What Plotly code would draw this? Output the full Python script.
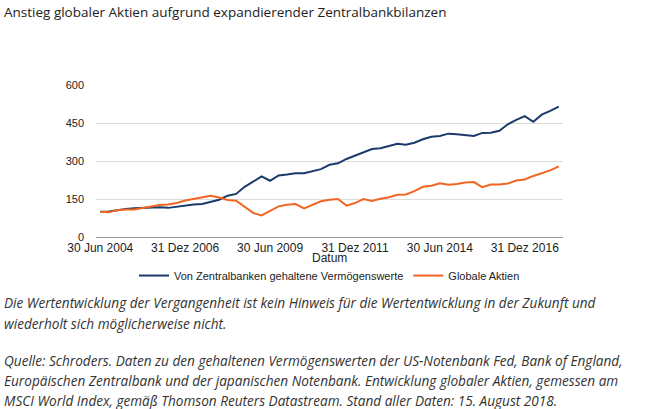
import plotly.graph_objects as go

# Quarter-end category labels (30 Jun 2004 ... 31 Dez 2017)
quarter_days = ["31 Mär", "30 Jun", "30 Sep", "31 Dez"]
dates = []
for year in range(2004, 2018):
    for q, d in enumerate(quarter_days):
        if year == 2004 and q < 1:
            continue
        dates.append(f"{d} {year}")

zentralbanken = [100, 101, 106, 111, 113, 115, 117, 117, 115, 120,
                 124, 128, 130, 137, 147, 163, 170, 198, 218, 239,
                 222, 243, 247, 252, 252, 260, 268, 285, 291, 308,
                 320, 334, 347, 350, 360, 368, 364, 372, 386, 396,
                 399, 408, 406, 403, 399, 411, 412, 419, 445, 462,
                 477, 455, 483, 498, 515]

aktien = [100, 98, 106, 109, 109, 115, 119, 126, 128, 134,
          144, 150, 158, 163, 156, 146, 143, 118, 95, 85,
          103, 121, 127, 130, 113, 128, 141, 147, 150, 124,
          134, 150, 142, 151, 157, 167, 168, 181, 198, 202,
          212, 206, 209, 215, 217, 197, 207, 207, 211, 223,
          227, 241, 252, 263, 279]

y_ticks = [0, 150, 300, 450, 600]
x_tick_labels = [dates[i] for i in range(0, len(dates), 10)]

title_text = "Anstieg globaler Aktien aufgrund expandierender Zentralbankbilanzen"
note_lines = [
    "Die Wertentwicklung der Vergangenheit ist kein Hinweis für die Wertentwicklung in der Zukunft und",
    "wiederholt sich möglicherweise nicht.",
    "",
    "Quelle: Schroders. Daten zu den gehaltenen Vermögenswerten der US-Notenbank Fed, Bank of England,",
    "Europäischen Zentralbank und der japanischen Notenbank. Entwicklung globaler Aktien, gemessen am",
    "MSCI World Index, gemäß Thomson Reuters Datastream. Stand aller Daten: 15. August 2018.",
]

BLUE = "#1b3a6b"
ORANGE = "#f26522"

W, H = 657, 409
L, R_EDGE, T, B_EDGE = 96, 563, 84.7, 237.3

fig = go.Figure()
fig.add_trace(go.Scatter(x=dates, y=zentralbanken, mode="lines",
                         name="Von Zentralbanken gehaltene Vermögenswerte",
                         line=dict(color=BLUE, width=2)))
fig.add_trace(go.Scatter(x=dates, y=aktien, mode="lines",
                         name="Globale Aktien",
                         line=dict(color=ORANGE, width=2)))

def py(pix):
    return (B_EDGE - pix) / (B_EDGE - T)

def px(pix):
    return (pix - L) / (R_EDGE - L)

annots = [dict(text=title_text, x=px(2), y=py(11), xref="paper", yref="paper",
               xanchor="left", yanchor="middle", showarrow=False,
               font=dict(family="Open Sans", size=13.5, color="#222"))]
annots.append(dict(text="Datum", x=0.5, y=py(258.5), xref="paper", yref="paper",
                   xanchor="center", yanchor="middle", showarrow=False,
                   font=dict(family="Liberation Sans, Arial", size=12, color="#222")))
line_y = [303, 324, None, 361, 381.5, 401]
for t, yy in zip(note_lines, line_y):
    if yy is None:
        continue
    annots.append(dict(text=f"<i>{t}</i>", x=px(2), y=py(yy), xref="paper", yref="paper",
                       xanchor="left", yanchor="middle", showarrow=False,
                       font=dict(family="Open Sans", size=13.6, color="#333")))

fig.update_layout(
    width=W, height=H,
    margin=dict(l=L, r=W - R_EDGE, t=T, b=H - B_EDGE, pad=0),
    paper_bgcolor="white", plot_bgcolor="white",
    showlegend=True,
    legend=dict(orientation="h", x=0.5, xanchor="center", y=py(276), yanchor="middle",
                font=dict(family="Liberation Sans, Arial", size=11, color="#222"),
                itemwidth=30, tracegroupgap=0),
    annotations=annots,
    xaxis=dict(type="category", range=[-0.5, len(dates) - 0.5],
               tickmode="array", tickvals=x_tick_labels, ticktext=x_tick_labels,
               showgrid=False, showline=True, linecolor="#999", linewidth=1,
               ticks="", tickfont=dict(family="Liberation Sans, Arial", size=12, color="#222"),
               zeroline=False),
    yaxis=dict(range=[0, 600], tickmode="array", tickvals=y_ticks,
               showgrid=True, gridcolor="#dcdcdc", gridwidth=1,
               zeroline=False, showline=False, ticks="",
               ticklabelstandoff=11,
               tickfont=dict(family="Liberation Sans, Arial", size=11, color="#222")),
)

fig.write_html("out.html",
               config={"displayModeBar": False},
               post_script="document.body.style.margin='0';document.body.style.padding='0';")
